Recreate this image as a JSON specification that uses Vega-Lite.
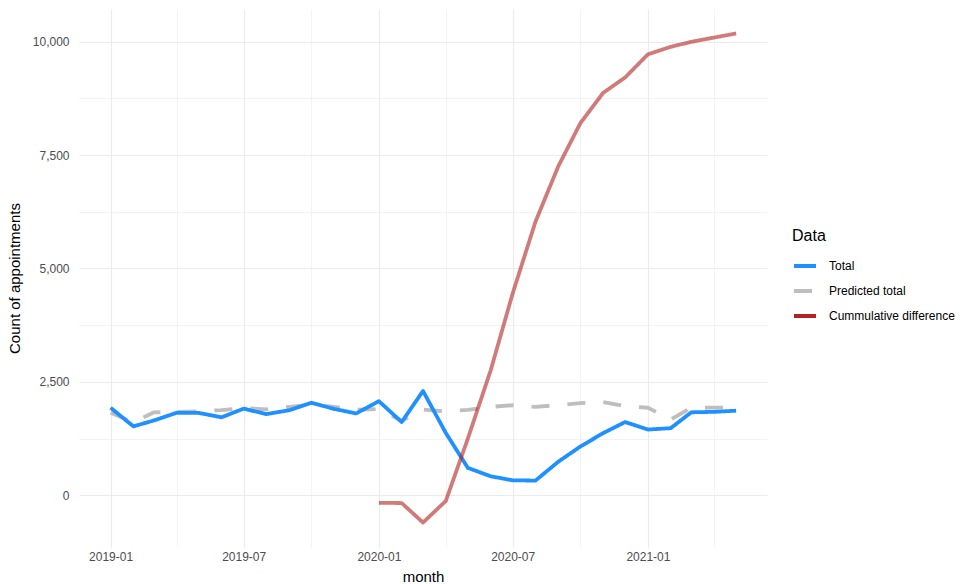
{
  "$schema": "https://vega.github.io/schema/vega-lite/v6.json",
  "width": 688,
  "height": 538,
  "autosize": {"type": "none"},
  "padding": {"left": 79, "top": 9, "right": 203, "bottom": 37},
  "background": "white",
  "config": {
    "font": "Liberation Sans",
    "view": {"stroke": null},
    "axis": {"domain": false, "ticks": false, "gridColor": "#EBEBEB", "labelColor": "#4D4D4D", "labelFontSize": 12, "titleFontSize": 15, "titleFontWeight": "normal", "titleColor": "#000000"},
    "legend": {"titleFontSize": 16, "titleFontWeight": "normal", "labelFontSize": 12, "labelColor": "#000000", "titleColor": "#000000"}
  },
  "data": {
    "values": [
      {"month": "2019-01-01", "series": "Total", "value": 1930},
      {"month": "2019-02-01", "series": "Total", "value": 1520},
      {"month": "2019-03-01", "series": "Total", "value": 1650},
      {"month": "2019-04-01", "series": "Total", "value": 1820},
      {"month": "2019-05-01", "series": "Total", "value": 1815},
      {"month": "2019-06-01", "series": "Total", "value": 1720},
      {"month": "2019-07-01", "series": "Total", "value": 1910},
      {"month": "2019-08-01", "series": "Total", "value": 1790},
      {"month": "2019-09-01", "series": "Total", "value": 1875},
      {"month": "2019-10-01", "series": "Total", "value": 2040},
      {"month": "2019-11-01", "series": "Total", "value": 1905},
      {"month": "2019-12-01", "series": "Total", "value": 1805},
      {"month": "2020-01-01", "series": "Total", "value": 2075},
      {"month": "2020-02-01", "series": "Total", "value": 1615},
      {"month": "2020-03-01", "series": "Total", "value": 2300},
      {"month": "2020-04-01", "series": "Total", "value": 1375},
      {"month": "2020-05-01", "series": "Total", "value": 605},
      {"month": "2020-06-01", "series": "Total", "value": 420},
      {"month": "2020-07-01", "series": "Total", "value": 330},
      {"month": "2020-08-01", "series": "Total", "value": 325},
      {"month": "2020-09-01", "series": "Total", "value": 740},
      {"month": "2020-10-01", "series": "Total", "value": 1075},
      {"month": "2020-11-01", "series": "Total", "value": 1370},
      {"month": "2020-12-01", "series": "Total", "value": 1615},
      {"month": "2021-01-01", "series": "Total", "value": 1450},
      {"month": "2021-02-01", "series": "Total", "value": 1480},
      {"month": "2021-03-01", "series": "Total", "value": 1830},
      {"month": "2021-04-01", "series": "Total", "value": 1840},
      {"month": "2021-05-01", "series": "Total", "value": 1865},
      {"month": "2019-01-01", "series": "Predicted total", "value": 1820},
      {"month": "2019-02-01", "series": "Predicted total", "value": 1610},
      {"month": "2019-03-01", "series": "Predicted total", "value": 1830},
      {"month": "2019-04-01", "series": "Predicted total", "value": 1835},
      {"month": "2019-05-01", "series": "Predicted total", "value": 1850},
      {"month": "2019-06-01", "series": "Predicted total", "value": 1880},
      {"month": "2019-07-01", "series": "Predicted total", "value": 1925},
      {"month": "2019-08-01", "series": "Predicted total", "value": 1895},
      {"month": "2019-09-01", "series": "Predicted total", "value": 1950},
      {"month": "2019-10-01", "series": "Predicted total", "value": 2000},
      {"month": "2019-11-01", "series": "Predicted total", "value": 1950},
      {"month": "2019-12-01", "series": "Predicted total", "value": 1885},
      {"month": "2020-01-01", "series": "Predicted total", "value": 1900},
      {"month": "2020-02-01", "series": "Predicted total", "value": 1640},
      {"month": "2020-03-01", "series": "Predicted total", "value": 1890},
      {"month": "2020-04-01", "series": "Predicted total", "value": 1850},
      {"month": "2020-05-01", "series": "Predicted total", "value": 1885},
      {"month": "2020-06-01", "series": "Predicted total", "value": 1950},
      {"month": "2020-07-01", "series": "Predicted total", "value": 1985},
      {"month": "2020-08-01", "series": "Predicted total", "value": 1950},
      {"month": "2020-09-01", "series": "Predicted total", "value": 1990},
      {"month": "2020-10-01", "series": "Predicted total", "value": 2030},
      {"month": "2020-11-01", "series": "Predicted total", "value": 2055},
      {"month": "2020-12-01", "series": "Predicted total", "value": 1965},
      {"month": "2021-01-01", "series": "Predicted total", "value": 1930},
      {"month": "2021-02-01", "series": "Predicted total", "value": 1670},
      {"month": "2021-03-01", "series": "Predicted total", "value": 1930},
      {"month": "2021-04-01", "series": "Predicted total", "value": 1935},
      {"month": "2021-05-01", "series": "Predicted total", "value": 1935},
      {"month": "2020-01-01", "series": "Cummulative difference", "value": -165},
      {"month": "2020-02-01", "series": "Cummulative difference", "value": -170},
      {"month": "2020-03-01", "series": "Cummulative difference", "value": -600},
      {"month": "2020-04-01", "series": "Cummulative difference", "value": -125},
      {"month": "2020-05-01", "series": "Cummulative difference", "value": 1250},
      {"month": "2020-06-01", "series": "Cummulative difference", "value": 2750},
      {"month": "2020-07-01", "series": "Cummulative difference", "value": 4450},
      {"month": "2020-08-01", "series": "Cummulative difference", "value": 6030},
      {"month": "2020-09-01", "series": "Cummulative difference", "value": 7250},
      {"month": "2020-10-01", "series": "Cummulative difference", "value": 8200},
      {"month": "2020-11-01", "series": "Cummulative difference", "value": 8870},
      {"month": "2020-12-01", "series": "Cummulative difference", "value": 9210},
      {"month": "2021-01-01", "series": "Cummulative difference", "value": 9720},
      {"month": "2021-02-01", "series": "Cummulative difference", "value": 9885},
      {"month": "2021-03-01", "series": "Cummulative difference", "value": 9995},
      {"month": "2021-04-01", "series": "Cummulative difference", "value": 10090},
      {"month": "2021-05-01", "series": "Cummulative difference", "value": 10180}
    ]
  },
  "encoding": {
    "x": {
      "field": "month", "type": "temporal", "title": "month",
      "scale": {"type": "utc", "domain": [{"year": 2018, "month": 11, "date": 19, "utc": true}, {"year": 2021, "month": 6, "date": 12, "utc": true}], "nice": false},
      "axis": {
        "values": [
          {"year": 2019, "month": 1, "date": 1, "utc": true},
          {"year": 2019, "month": 4, "date": 1, "utc": true},
          {"year": 2019, "month": 7, "date": 1, "utc": true},
          {"year": 2019, "month": 10, "date": 1, "utc": true},
          {"year": 2020, "month": 1, "date": 1, "utc": true},
          {"year": 2020, "month": 4, "date": 1, "utc": true},
          {"year": 2020, "month": 7, "date": 1, "utc": true},
          {"year": 2020, "month": 10, "date": 1, "utc": true},
          {"year": 2021, "month": 1, "date": 1, "utc": true},
          {"year": 2021, "month": 4, "date": 1, "utc": true}
        ],
        "labelExpr": "utcmonth(datum.value) % 6 == 0 ? utcFormat(datum.value, '%Y-%m') : ''",
        "gridWidth": {"condition": {"test": "utcmonth(datum.value) % 6 == 0", "value": 1.1}, "value": 0.6},
        "labelPadding": 4,
        "titlePadding": 7,
        "labelFlush": false
      }
    },
    "y": {
      "field": "value", "type": "quantitative", "title": "Count of appointments",
      "scale": {"domain": [-1139, 10719], "nice": false, "zero": false},
      "axis": {
        "values": [0, 1250, 2500, 3750, 5000, 6250, 7500, 8750, 10000],
        "labelExpr": "datum.value % 2500 == 0 ? format(datum.value, ',') : ''",
        "gridWidth": {"condition": {"test": "datum.value % 2500 == 0", "value": 1.1}, "value": 0.6},
        "labelPadding": 10,
        "titlePadding": 10
      }
    },
    "color": {
      "field": "series", "type": "nominal", "title": "Data",
      "scale": {"domain": ["Total", "Predicted total", "Cummulative difference"], "range": ["#1E90FF", "#BEBEBE", "#B22222"]},
      "legend": {"orient": "none", "legendX": 713, "legendY": 219, "symbolType": "stroke", "symbolSize": 484, "symbolStrokeWidth": 4, "labelOffset": 11, "rowPadding": 4, "titlePadding": 9, "symbolOpacity": 1}
    },
    "strokeDash": {
      "field": "series", "type": "nominal", "title": "Data",
      "scale": {"domain": ["Total", "Predicted total", "Cummulative difference"], "range": [[1, 0], [18, 18], [1, 0]]}
    }
  },
  "layer": [
    {"transform": [{"filter": "datum.series == 'Predicted total'"}], "mark": {"type": "line", "strokeWidth": 3.8, "strokeJoin": "round"}},
    {"transform": [{"filter": "datum.series == 'Total'"}], "mark": {"type": "line", "strokeWidth": 3.8, "strokeJoin": "round"}},
    {"transform": [{"filter": "datum.series == 'Cummulative difference'"}], "mark": {"type": "line", "strokeWidth": 3.8, "strokeJoin": "round"}, "encoding": {"strokeOpacity": {"value": 0.6}}}
  ]
}
